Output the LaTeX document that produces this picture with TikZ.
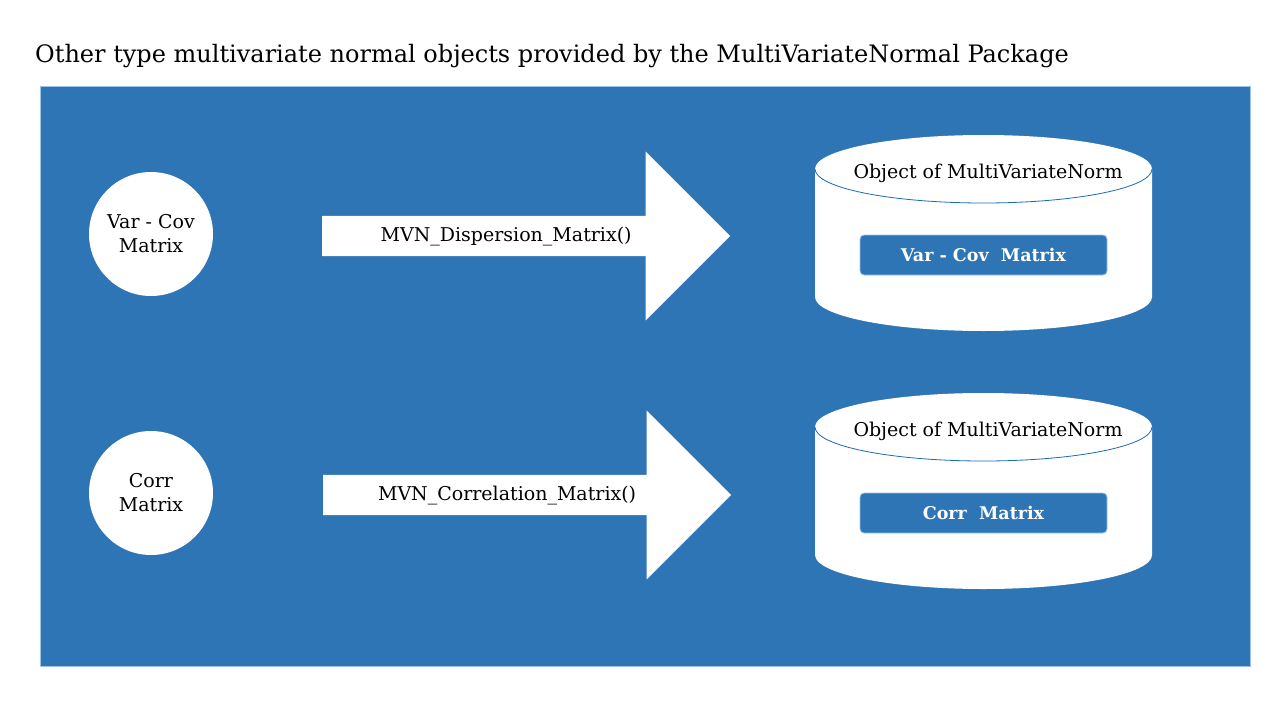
\documentclass[tikz,border=0pt]{standalone}
\usepackage{fontspec}
\setmainfont{DejaVu Serif}
\usepackage{tikz}
\usetikzlibrary{shapes.arrows, shapes.geometric, positioning, calc}
\definecolor{mvblue}{RGB}{46,117,182}
\definecolor{mvedge}{RGB}{157,195,230}
\definecolor{mvline}{RGB}{25,105,185}
\tikzset{
  panel/.style={fill=mvblue, draw=mvedge, line width=1pt},
  matcircle/.style={circle, fill=white, minimum size=124pt, inner sep=0pt, align=center, font=\fontsize{19}{24}\selectfont},
  fnarrow/.style={single arrow, fill=white, single arrow head extend=64.5pt, single arrow tip angle=90, minimum height=408pt, inner xsep=0pt, inner ysep=11pt, text height=14pt, text depth=4pt, font=\fontsize{19}{22}\selectfont, execute at end node={\hspace{20pt}}},
  cyltitle/.style={font=\fontsize{19}{22}\selectfont},
  slot/.style={rectangle, rounded corners=4pt, fill=mvblue, draw=mvedge, line width=0.8pt, minimum width=247pt, minimum height=40pt, text=white, font=\bfseries\fontsize{17.5}{20}\selectfont},
  cylbody/.style={fill=white},
  cylrim/.style={draw=mvline, line width=0.8pt}
}

\begin{document}
\begin{tikzpicture}[x=1pt, y=-1pt]
  \useasboundingbox [fill=white] (0,0) rectangle (1280,720);

  \node [anchor=base west, font=\fontsize{24}{28}\selectfont, inner sep=0pt] (title) at (35,62) {Other type multivariate normal objects provided by the MultiVariateNormal Package};
  \draw [panel] (40,86) rectangle (1250,666);

  % inputs
  \node [matcircle] (vc) at (151,234) {Var - Cov\\Matrix};
  \node [matcircle] (cr) at (151,493) {Corr\\Matrix};

  % functions
  \node [fnarrow, anchor=tail] (disp) at (322,236) {MVN\_Dispersion\_Matrix()};
  \node [fnarrow, anchor=tail] (corr) at (323,495) {MVN\_Correlation\_Matrix()};

  % objects
  \foreach \name/\top/\lbl in {obja/169/{Var - Cov\ \ Matrix}, objb/427/{Corr\ \ Matrix}} {
    \fill [cylbody] (815,\top) -- ++(0,128) arc[start angle=180, end angle=0, x radius=168.5, y radius=34]
      -- ++(0,-128) arc[start angle=0, end angle=-180, x radius=168.5, y radius=34] -- cycle;
    \draw [cylrim] (815,\top) arc[start angle=180, end angle=0, x radius=168.5, y radius=34];
    \node [cyltitle] (\name-t) at (988,\top+4) {Object of MultiVariateNorm};
    \node [slot] (\name-m) at (983.5,\top+86) {\lbl};
  }
\end{tikzpicture}
\end{document}
